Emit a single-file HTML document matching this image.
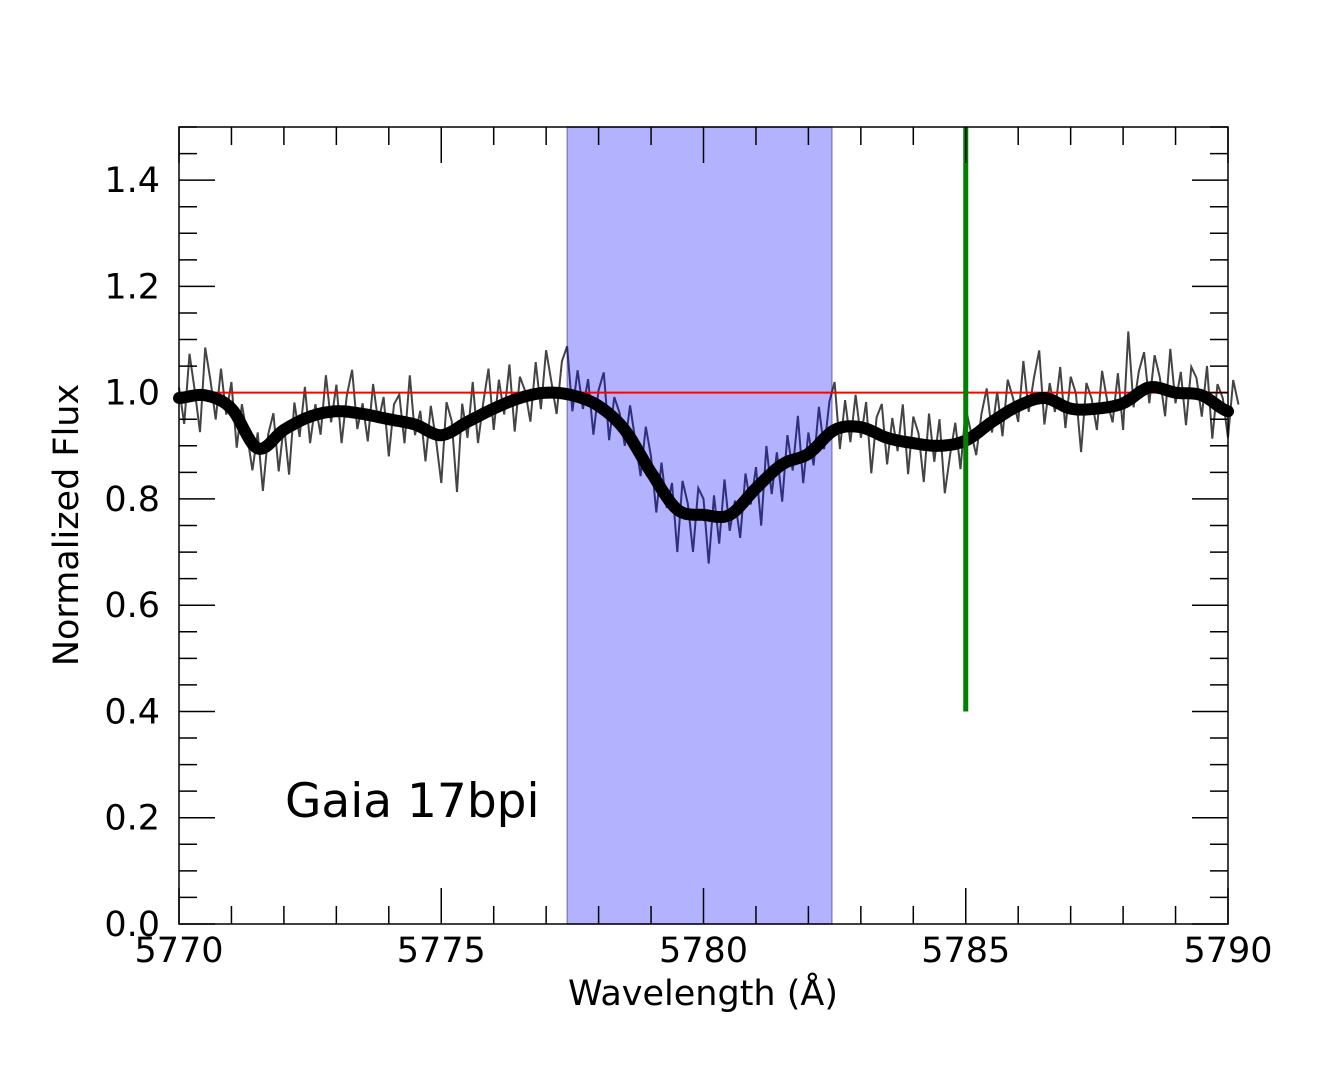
<!DOCTYPE html>
<html><head><meta charset="utf-8">
<style>
html,body{margin:0;padding:0;background:#fff;}
svg text{font-family:"DejaVu Sans","Liberation Sans",sans-serif;}
</style></head>
<body>
<svg id="chart" width="1333" height="1066" viewBox="0 0 1333 1066" xmlns="http://www.w3.org/2000/svg">
<rect width="1333" height="1066" fill="#fff"/>
<g id="plot"></g>
</svg>
<script>
const smoothX = [5770,5770.5,5771,5771.5,5772,5772.5,5773,5773.5,5774,5774.5,5775,5775.5,5776,5776.5,5777,5777.5,5778,5778.5,5779,5779.5,5780,5780.5,5781,5781.5,5782,5782.5,5783,5783.5,5784,5784.5,5785,5785.5,5786,5786.5,5787,5787.5,5788,5788.5,5789,5789.5,5790];
const smoothY = [0.99,0.995,0.97,0.895,0.93,0.955,0.965,0.96,0.95,0.94,0.92,0.945,0.97,0.99,1.0,0.995,0.975,0.93,0.85,0.78,0.77,0.77,0.82,0.865,0.885,0.93,0.935,0.915,0.905,0.9,0.91,0.945,0.975,0.99,0.97,0.97,0.98,1.01,1.0,0.995,0.965];
const noiseResid = [0.02,-0.05,0.08,0.01,-0.07,0.09,0.03,-0.04,0.06,-0.02,0.05,-0.06,0.04,0.00,-0.05,0.03,-0.08,0.02,0.05,-0.07,0.01,-0.09,0.04,-0.03,0.06,-0.05,0.02,-0.04,0.07,-0.02,0.05,-0.06,0.03,0.08,-0.03,0.02,-0.05,0.06,-0.01,0.04,-0.07,0.03,0.05,-0.04,0.09,-0.02,0.03,-0.06,0.05,-0.01,-0.09,0.06,0.02,-0.12,0.04,-0.03,0.07,-0.05,0.02,0.08,-0.04,0.05,-0.02,0.07,-0.06,0.04,0.01,-0.05,0.06,-0.03,0.08,0.02,-0.04,0.06,0.09,-0.03,0.05,-0.02,0.04,-0.06,0.03,0.07,-0.05,0.04,0.02,-0.03,0.06,0.01,-0.04,0.07,0.03,-0.06,0.05,-0.02,0.04,-0.08,0.06,0.02,-0.07,0.05,0.03,-0.09,0.04,-0.05,0.07,-0.03,0.02,-0.06,0.05,-0.02,0.04,-0.08,0.06,-0.04,0.03,-0.07,0.05,-0.02,0.08,-0.05,0.04,-0.03,0.07,-0.02,0.06,0.09,-0.04,0.05,-0.03,0.06,-0.02,0.05,-0.08,0.03,0.06,-0.05,0.04,-0.02,0.07,-0.06,0.05,0.02,-0.07,0.06,-0.03,0.05,-0.09,-0.02,0.04,-0.05,0.06,0.01,-0.04,0.03,0.07,-0.02,0.05,-0.04,0.06,0.02,-0.03,0.08,-0.02,0.04,0.09,-0.05,0.03,-0.02,0.07,-0.04,0.06,0.03,-0.08,0.05,0.02,-0.04,0.07,0.01,-0.03,0.06,-0.05,0.13,-0.02,0.04,0.07,-0.03,0.06,0.02,-0.05,0.08,-0.02,0.04,-0.06,0.05,0.03,-0.04,0.06,-0.07,0.04,0.02,-0.05,0.06,0.01];
const xTicksMajor = [5770,5775,5780,5785,5790];
const yTicksMajor = [0.0,0.2,0.4,0.6,0.8,1.0,1.2,1.4];
const yTickLabels = ["0.0","0.2","0.4","0.6","0.8","1.0","1.2","1.4"];
const spanRange = [5777.4,5782.45];
const greenLine = [5785,0.4,1.5];

const NS="http://www.w3.org/2000/svg";
const L=179,R=1228,T=127,B=924;
const xs=v=>L+(v-5770)/20*(R-L);
const ys=v=>B-v/1.5*(B-T);
const g=document.getElementById('plot');
function mk(tag,attrs){const e=document.createElementNS(NS,tag);for(const k in attrs)e.setAttribute(k,attrs[k]);g.appendChild(e);return e;}
// Catmull-Rom interpolation of the smooth curve
function interp(x){
  const n=smoothX.length;
  let i=Math.min(n-2,Math.max(0,Math.floor((x-smoothX[0])/(smoothX[1]-smoothX[0]))));
  const t=(x-smoothX[i])/(smoothX[i+1]-smoothX[i]);
  const p0=smoothY[Math.max(0,i-1)],p1=smoothY[i],p2=smoothY[i+1],p3=smoothY[Math.min(n-1,i+2)];
  return 0.5*((2*p1)+(-p0+p2)*t+(2*p0-5*p1+4*p2-p3)*t*t+(-p0+3*p1-3*p2+p3)*t*t*t);
}

// noisy spectrum
let d='';
noiseResid.forEach((r,i)=>{const x=5770+i*0.1;d+=(i?'L':'M')+xs(x).toFixed(1)+','+ys(interp(x)+r).toFixed(1);});
const noisy=mk('path',{d:d,fill:'none',stroke:'#444','stroke-width':2});



// span
const sp=mk('rect',{x:xs(spanRange[0]),y:T,width:xs(spanRange[1])-xs(spanRange[0]),height:B-T,fill:'rgba(0,0,255,0.3)',stroke:'rgba(0,0,80,0.35)','stroke-width':1.5});



// red continuum
const red=mk('line',{x1:L,x2:R,y1:ys(1),y2:ys(1),stroke:'#f00','stroke-width':2});



// smooth
let d2='';
for(let k=0;k<=400;k++){const x=5770+k*0.05;d2+=(k?'L':'M')+xs(x).toFixed(1)+','+ys(interp(x)).toFixed(1);}
const sm=mk('path',{d:d2,fill:'none',stroke:'#000','stroke-width':12,'stroke-linejoin':'round','stroke-linecap':'round'});



// green
const gr=mk('line',{x1:xs(greenLine[0]),x2:xs(greenLine[0]),y1:ys(greenLine[1]),y2:ys(greenLine[2]),stroke:'#008000','stroke-width':5});



// frame
const fr=mk('rect',{x:L,y:T,width:R-L,height:B-T,fill:'none',stroke:'#000','stroke-width':1.5});



for(let v=5770;v<=5790;v++){
  const maj=xTicksMajor.includes(v);const len=maj?36:18;const x=xs(v);
  const t1=mk('line',{x1:x,x2:x,y1:B,y2:B-len,stroke:'#000','stroke-width':1.5});
  
  
  const t2=mk('line',{x1:x,x2:x,y1:T,y2:T+len,stroke:'#000','stroke-width':1.5});
  
  
}
xTicksMajor.forEach(v=>{
  const t=mk('text',{x:xs(v),y:962,'text-anchor':'middle','font-size':35});t.textContent=String(v);
  
  
});
for(let i=0;i<=30;i++){
  const v=i*0.05;const maj=i%4===0;const len=maj?36:18;const y=ys(v);
  const t1=mk('line',{x1:L,x2:L+len,y1:y,y2:y,stroke:'#000','stroke-width':1.5});
  
  
  const t2=mk('line',{x1:R,x2:R-len,y1:y,y2:y,stroke:'#000','stroke-width':1.5});
  
  
}
yTicksMajor.forEach((v,i)=>{
  const t=mk('text',{x:160,y:ys(v)+12,'text-anchor':'end','font-size':35});t.textContent=yTickLabels[i];
  
  
});
const xl=mk('text',{x:703,y:1005,'text-anchor':'middle','font-size':35});xl.textContent='Wavelength (Å)';


const yl=mk('text',{x:0,y:0,'text-anchor':'middle','font-size':35,transform:'translate(78,525) rotate(-90)'});yl.textContent='Normalized Flux';


const an=mk('text',{x:285,y:817,'font-size':47});an.textContent='Gaia 17bpi';


</script>
</body></html>
